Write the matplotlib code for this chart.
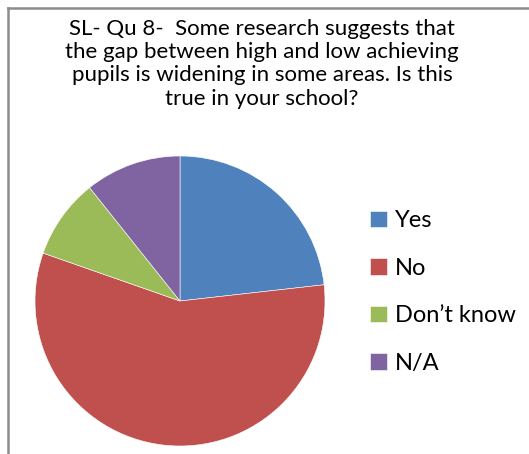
import matplotlib.pyplot as plt
from matplotlib.lines import Line2D

labels = ['Yes', 'No', 'Don\u2019t know', 'N/A']
counts = [13, 32, 5, 6]
colors = ['#4F81BD', '#C0504D', '#9BBB59', '#8064A2']

title = ('SL- Qu 8-  Some research suggests that\n'
         'the gap between high and low achieving\n'
         'pupils is widening in some areas. Is this\n'
         'true in your school?')

plt.rcParams['font.family'] = ['Lato', 'DejaVu Sans']

W, H = 529, 454
fig = plt.figure(figsize=(W / 100, H / 100), dpi=100)

# chart frame: grey line on the left and top
fig.add_artist(Line2D([7.5 / W, 7.5 / W], [0, 1 - 8 / H], color='#8c8c8c', lw=1.8))
fig.add_artist(Line2D([7.5 / W, 1], [1 - 8 / H, 1 - 8 / H], color='#8c8c8c', lw=1.8))

fig.text(262 / W, 1 - 19 / H, title, ha='center', va='top', fontsize=16,
         linespacing=1.2)

ax = fig.add_axes([35 / W, 8 / H, 290 / W, 290 / H])
wedges, _ = ax.pie(counts, colors=colors, startangle=90, counterclock=False,
                   radius=1, wedgeprops=dict(edgecolor='white', linewidth=0.4))
ax.set_xlim(-1, 1)
ax.set_ylim(-1, 1)
ax.axis('off')

fig.legend(wedges, labels, loc='upper left', bbox_to_anchor=(349 / W, 1 - 189 / H),
           frameon=False, fontsize=17, handlelength=0.7, handleheight=0.7,
           handletextpad=0.35, labelspacing=1.12)

fig.savefig('out.png', dpi=100)
